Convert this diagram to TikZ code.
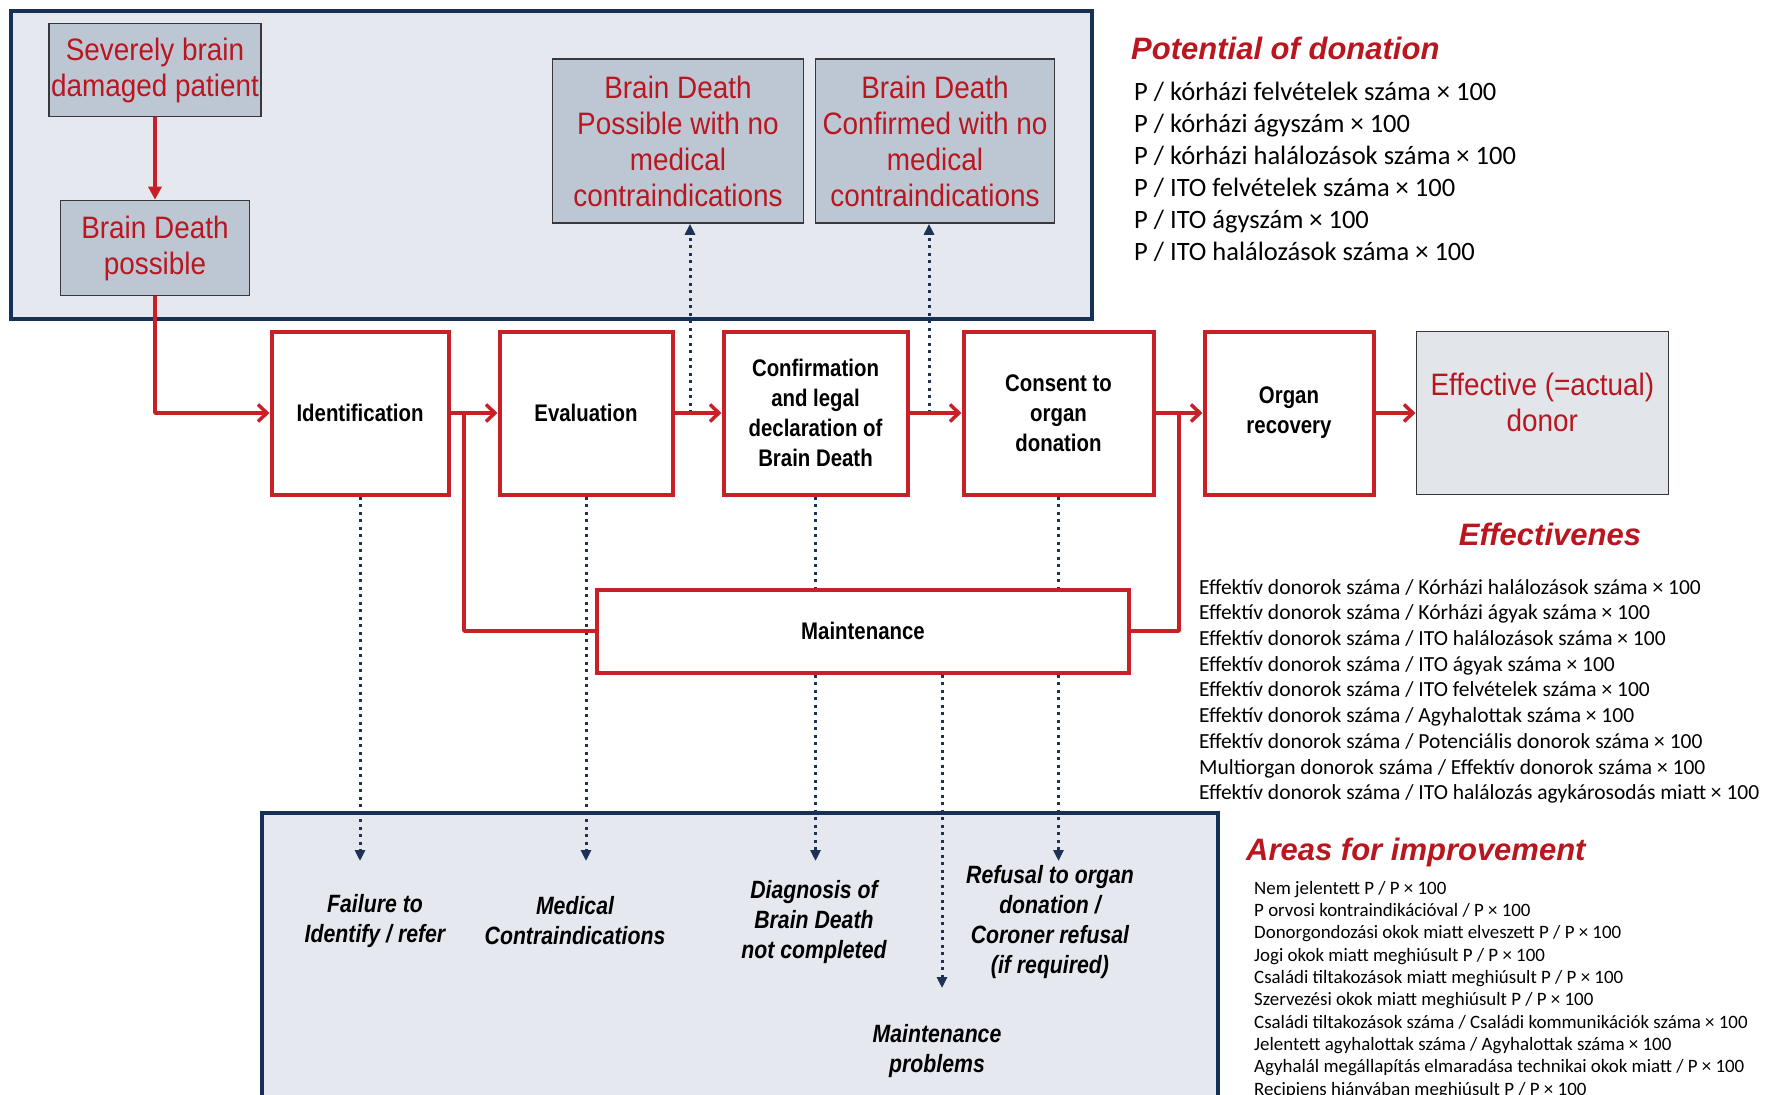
\documentclass[tikz,border=0pt]{standalone}
\usepackage{fontspec}
\setmainfont{Liberation Sans}
\newfontfamily\redfont[FakeStretch=0.9]{Liberation Sans}
\newfontfamily\stepfont[FakeStretch=0.85]{Liberation Sans}
\newfontfamily\listfont{Carlito}
\usetikzlibrary{arrows.meta,positioning}

\definecolor{panelfill}{RGB}{229,233,239}
\definecolor{panelline}{RGB}{22,48,86}
\definecolor{greyfill}{RGB}{189,199,212}
\definecolor{boxline}{RGB}{55,55,60}
\definecolor{stepred}{RGB}{200,32,38}
\definecolor{textred}{RGB}{185,22,32}
\definecolor{dotblue}{RGB}{30,50,85}
\definecolor{donorfill}{RGB}{226,229,233}

\begin{document}
\begin{tikzpicture}[x=1pt,y=-1pt,
  node distance=47pt,
  greybox/.style={draw=boxline,line width=1.6pt,fill=greyfill,align=center,text=textred,
    font=\redfont\fontsize{31}{36}\selectfont,inner sep=2pt},
  stepbox/.style={draw=stepred,line width=4pt,fill=white,align=center,minimum height=163pt,
    font=\stepfont\bfseries\fontsize{24}{30}\selectfont},
  loss/.style={align=center,font=\stepfont\bfseries\itshape\fontsize{25}{30}\selectfont},
  heading/.style={font=\bfseries\itshape\fontsize{31}{36}\selectfont,text=textred,inner sep=0pt},
  measures/.style={align=left,inner sep=0pt,anchor=north west},
  flow/.style={draw=stepred,line width=3.5pt,line join=round,
    -{Straight Barb[length=9pt,width=17pt,line width=3.5pt]}},
  dotflow/.style={draw=dotblue,line width=3pt,dash pattern=on 3pt off 4.5pt,
    -{Triangle[length=11pt,width=10pt]}}
]
  \useasboundingbox (0,0) rectangle (1765,1095);
  \draw[panelline,line width=4pt,fill=panelfill] (11,11) rectangle (1092,319);
  \draw[panelline,line width=4pt,fill=panelfill] (262,813) rectangle (1218,1115);

  \node[greybox,minimum width=212pt,minimum height=93pt] (patient) at (155,70) {Severely brain\\damaged patient};
  \node[greybox,minimum width=189pt,minimum height=95pt] (bdposs) at (155,248) {Brain Death\\possible};
  \node[greybox,minimum width=251pt,minimum height=164pt] (nocontra) at (678,141)
    {Brain Death\\Possible with no\\medical\\contraindications};
  \node[greybox,minimum width=239pt,minimum height=164pt] (confirmed) at (935,141)
    {Brain Death\\Confirmed with no\\medical\\contraindications};

  \node[stepbox,minimum width=177pt] (ident) at (360,413) {Identification};
  \node[stepbox,minimum width=173pt,right=of ident] (eval) {Evaluation};
  \node[stepbox,minimum width=184pt,right=of eval] (conf) {Confirmation\\and legal\\declaration of\\Brain Death};
  \node[stepbox,minimum width=190pt,right=52pt of conf] (consent) {Consent to\\organ\\donation};
  \node[stepbox,minimum width=169pt,right=of consent] (organ) {Organ\\recovery};
  \node[greybox,draw=boxline,fill=donorfill,minimum width=252pt,minimum height=163pt,right=40pt of organ] (donor)
    {Effective (=actual)\\donor\\[-15pt]\mbox{}};
  \node[stepbox,minimum width=532pt,minimum height=83pt] (maint) at (863,631) {Maintenance};

  \coordinate (split) at (464,413);
  \coordinate (merge) at (1179,413);
  \coordinate (upA) at (690,413);
  \coordinate (upB) at (929,413);
  \coordinate (lossrow) at (0,861);
  \coordinate (maintloss) at (942,988);

  \draw[dotflow] (upA) -- (upA |- nocontra.south);
  \draw[dotflow] (upB) -- (upB |- confirmed.south);
  \draw[dotflow] (ident.south) -- (ident.south |- lossrow);
  \draw[dotflow] (eval.south) -- (eval.south |- lossrow);
  \draw[dotflow,-] (conf.south) -- (conf.south |- maint.north);
  \draw[dotflow] (conf.south |- maint.south) -- (conf.south |- lossrow);
  \draw[dotflow,-] (consent.south) -- (consent.south |- maint.north);
  \draw[dotflow] (consent.south |- maint.south) -- (consent.south |- lossrow);
  \draw[dotflow] (maintloss |- maint.south) -- (maintloss);

  \draw[flow,-{Triangle[length=13pt,width=13pt]}] (patient) -- (bdposs);
  \draw[flow] (bdposs.south) |- (ident.west);
  \draw[flow] (ident) -- (eval);
  \draw[flow] (eval) -- (conf);
  \draw[flow] (conf) -- (consent);
  \draw[flow] (consent) -- (organ);
  \draw[flow] (organ) -- (donor);
  \draw[flow,-] (split) |- (maint.west);
  \draw[flow,-] (maint.east) -| (merge);

  \node[loss] (lfail) at (375,921) {Failure to\\Identify / refer};
  \node[loss] (lcontra) at (575,921) {Medical\\Contraindications};
  \node[loss] (ldiag) at (814,922) {Diagnosis of\\Brain Death\\not completed};
  \node[loss] (lrefuse) at (1050,922) {Refusal to organ\\donation /\\Coroner refusal\\(if required)};
  \node[loss] (lmaint) at (937,1051) {Maintenance\\problems};

  \node[heading,anchor=west] (potential) at (1131,48) {Potential of donation};
  \node[measures,font=\listfont\fontsize{26.5}{32}\selectfont] (potlist) at (1134,82)
    {P / kórházi felvételek száma × 100\\
     P / kórházi ágyszám × 100\\
     P / kórházi halálozások száma × 100\\
     P / ITO felvételek száma × 100\\
     P / ITO ágyszám × 100\\
     P / ITO halálozások száma × 100};

  \node[heading] (effect) at (1550,534) {Effectivenes};
  \node[measures,font=\listfont\fontsize{21.5}{25.7}\selectfont] (efflist) at (1199,579)
    {Effektív donorok száma / Kórházi halálozások száma × 100\\
     Effektív donorok száma / Kórházi ágyak száma × 100\\
     Effektív donorok száma / ITO halálozások száma × 100\\
     Effektív donorok száma / ITO ágyak száma × 100\\
     Effektív donorok száma / ITO felvételek száma × 100\\
     Effektív donorok száma / Agyhalottak száma × 100\\
     Effektív donorok száma / Potenciális donorok száma × 100\\
     Multiorgan donorok száma / Effektív donorok száma × 100\\
     Effektív donorok száma / ITO halálozás agykárosodás miatt × 100};

  \node[heading,anchor=west] (areas) at (1246,852) {Areas for improvement};
  \node[measures,font=\listfont\fontsize{18.9}{22.3}\selectfont] (arealist) at (1254,881)
    {Nem jelentett P / P × 100\\
     P orvosi kontraindikációval  / P × 100\\
     Donorgondozási okok miatt elveszett P / P × 100\\
     Jogi okok miatt meghiúsult P / P × 100\\
     Családi tiltakozások miatt meghiúsult P / P × 100\\
     Szervezési okok miatt meghiúsult P / P × 100\\
     Családi tiltakozások száma / Családi kommunikációk száma × 100\\
     Jelentett agyhalottak száma / Agyhalottak száma × 100\\
     Agyhalál megállapítás elmaradása technikai okok miatt / P × 100\\
     Recipiens hiányában meghiúsult P / P × 100};
\end{tikzpicture}
\end{document}
